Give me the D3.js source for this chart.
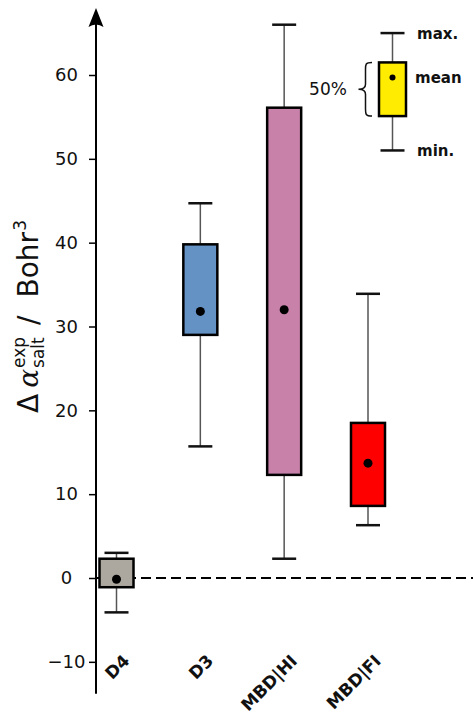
<!DOCTYPE html>
<html>
<head>
<meta charset="utf-8">
<script src="https://d3js.org/d3.v7.min.js"></script>
<style>
  body { margin: 0; background: #fff; }
  svg { display: block; font-family: "DejaVu Sans", sans-serif; }
</style>
</head>
<body>
<div id="chart"></div>
<script>
// data
var categories = ["D4", "D3", "MBD|HI", "MBD|FI"];
var mins  = [-4.1, 15.7, 2.3, 6.3];
var q1s   = [-1.1, 29.0, 12.3, 8.6];
var means = [-0.15, 31.8, 32.0, 13.7];
var q3s   = [2.3, 39.8, 56.1, 18.5];
var maxs  = [3.0, 44.7, 66.0, 33.9];
var colors = ["#aca89f", "#6592c5", "#c882a9", "#ff0000"];
var yTicks = [-10, 0, 10, 20, 30, 40, 50, 60];

// legend box, drawn on the same value scale
var legendStats = {min: 51, q1: 55.1, mean: 59.7, q3: 61.5, max: 65};
var legendLabels = ["max.", "mean", "min."];

var W = 473, H = 715;
var svg = d3.select("#chart").append("svg")
  .attr("width", W).attr("height", H);

var y = d3.scaleLinear().domain([0, 60]).range([578, 75]);
var x = d3.scalePoint().domain(categories).range([116.5, 368]);
var axisX = 96;

// zero line
svg.append("line")
  .attr("x1", axisX).attr("x2", W)
  .attr("y1", y(0)).attr("y2", y(0))
  .attr("stroke", "#000").attr("stroke-width", 2)
  .attr("stroke-dasharray", "10,5");

// y axis
var ax = svg.append("g")
  .attr("transform", "translate(" + axisX + ",0)")
  .call(d3.axisLeft(y).tickValues(yTicks).tickSize(7));
ax.select(".domain").remove();
ax.selectAll(".tick line").attr("stroke", "#000").attr("stroke-width", 1.5);
ax.selectAll(".tick text")
  .attr("x", 66.5 - axisX).attr("text-anchor", "middle")
  .attr("font-size", 18).attr("font-family", "DejaVu Sans, sans-serif")
  .attr("fill", "#111");

svg.append("line")
  .attr("x1", axisX).attr("x2", axisX)
  .attr("y1", y(-13.8)).attr("y2", 20)
  .attr("stroke", "#000").attr("stroke-width", 2);
svg.append("path")
  .attr("d", "M" + axisX + ",8 L" + (axisX + 7.5) + ",27 Q" + axisX + ",22 " + (axisX - 7.5) + ",27 Z")
  .attr("fill", "#000");

// y axis title
var tg = svg.append("g").attr("transform", "translate(38,413) rotate(-90)");
function piece(txt, px, py, size, style) {
  var t = tg.append("text").attr("x", px).attr("y", py)
    .attr("font-size", size).attr("fill", "#111").text(txt);
  if (style) t.attr("font-style", style).attr("font-family", "DejaVu Serif, serif");
  return t.node().getComputedTextLength();
}
var cx = 0;
cx += piece("\u0394", cx, 0, 28);
cx += 6;
cx += piece("\u03b1", cx, 0, 28, "italic");
cx += 1;
var wSub = piece("salt", cx, 6, 17);
var wSup = piece("exp", cx, -13, 17);
cx += Math.max(wSub, wSup) + 12;
cx += piece("/", cx, 0, 28);
cx += 18;
cx += piece("Bohr", cx, 0, 28);
piece("3", cx + 1, -12, 17);

// boxes
var boxW = 34, capW = 24;
var groups = svg.selectAll("g.box").data(categories).enter()
  .append("g").attr("class", "box");

groups.append("line")
  .attr("x1", function(d) { return x(d); }).attr("x2", function(d) { return x(d); })
  .attr("y1", function(d, i) { return y(maxs[i]); })
  .attr("y2", function(d, i) { return y(mins[i]); })
  .attr("stroke", "#555").attr("stroke-width", 1.5);
groups.selectAll("line.cap")
  .data(function(d, i) { return [{c: d, v: maxs[i]}, {c: d, v: mins[i]}]; })
  .enter().append("line").attr("class", "cap")
  .attr("x1", function(d) { return x(d.c) - capW / 2; })
  .attr("x2", function(d) { return x(d.c) + capW / 2; })
  .attr("y1", function(d) { return y(d.v); }).attr("y2", function(d) { return y(d.v); })
  .attr("stroke", "#111").attr("stroke-width", 2.5);
groups.append("rect")
  .attr("x", function(d) { return x(d) - boxW / 2; })
  .attr("y", function(d, i) { return y(q3s[i]); })
  .attr("width", boxW)
  .attr("height", function(d, i) { return y(q1s[i]) - y(q3s[i]); })
  .attr("fill", function(d, i) { return colors[i]; })
  .attr("stroke", "#000").attr("stroke-width", 2.5);
groups.append("circle")
  .attr("cx", function(d) { return x(d); })
  .attr("cy", function(d, i) { return y(means[i]); })
  .attr("r", 4.5).attr("fill", "#000");

// category labels
svg.selectAll("text.cat").data(categories).enter().append("text")
  .attr("class", "cat")
  .attr("transform", function(d) { return "translate(" + (x(d) + 14) + ",662) rotate(-45)"; })
  .attr("text-anchor", "end")
  .attr("font-size", 17).attr("font-weight", "bold").attr("fill", "#111")
  .text(function(d) { return d; });

// legend
var lx = 392.5, lBox = 27;
var lg = svg.append("g");
lg.append("line").attr("x1", lx).attr("x2", lx)
  .attr("y1", y(legendStats.max)).attr("y2", y(legendStats.min))
  .attr("stroke", "#555").attr("stroke-width", 1.5);
[legendStats.max, legendStats.min].forEach(function(v) {
  lg.append("line").attr("x1", lx - capW / 2).attr("x2", lx + capW / 2)
    .attr("y1", y(v)).attr("y2", y(v))
    .attr("stroke", "#111").attr("stroke-width", 2.5);
});
lg.append("rect").attr("x", lx - lBox / 2).attr("y", y(legendStats.q3))
  .attr("width", lBox).attr("height", y(legendStats.q1) - y(legendStats.q3))
  .attr("fill", "#ffec00").attr("stroke", "#000").attr("stroke-width", 2.5);
lg.append("circle").attr("cx", lx).attr("cy", y(legendStats.mean))
  .attr("r", 3).attr("fill", "#000");
[legendStats.max, legendStats.mean, legendStats.min].forEach(function(v, i) {
  lg.append("text").attr("x", i === 1 ? 415 : 417).attr("y", y(v) + 5.5)
    .attr("font-size", 15).attr("font-weight", "bold").attr("fill", "#111")
    .text(legendLabels[i]);
});
var bt = y(legendStats.q3), bb = y(legendStats.q1), bm = (bt + bb) / 2;
lg.append("path")
  .attr("d", "M372," + bt + " C365.5," + bt + " 365.5," + (bt + 2) + " 365.5," + (bt + 7) +
    " L365.5," + (bm - 5) + " C365.5," + (bm - 1) + " 363," + bm + " 358.5," + bm +
    " C363," + bm + " 365.5," + (bm + 1) + " 365.5," + (bm + 5) +
    " L365.5," + (bb - 7) + " C365.5," + (bb - 2) + " 365.5," + bb + " 372," + bb)
  .attr("fill", "none").attr("stroke", "#111").attr("stroke-width", 1.5);
lg.append("text").attr("x", 328).attr("y", bm + 6)
  .attr("text-anchor", "middle").attr("font-size", 17).attr("fill", "#111")
  .text("50%");
</script>
</body>
</html>
